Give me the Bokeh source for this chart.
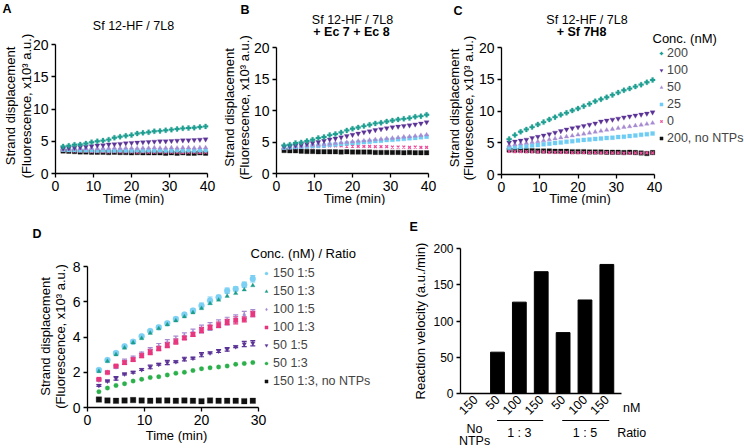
import math
from bokeh.plotting import figure
from bokeh.models import (Range1d, FixedTicker, Label, Legend, LegendItem, Whisker,
                          ColumnDataSource, TeeHead, BoxAnnotation)
from bokeh.layouts import column, row
from bokeh.embed import file_html
from bokeh.resources import INLINE

FONT = "Liberation Sans"

# ---------------- data ----------------
t_abc = [2.0, 3.5, 5.0, 6.5, 8.0, 9.5, 11.0, 12.5, 14.0, 15.5, 17.0, 18.5, 20.0,
         21.5, 23.0, 24.5, 26.0, 27.5, 29.0, 30.5, 32.0, 33.5, 35.0, 36.5, 38.0, 39.5]
conc_labels = ["200", "100", "50", "25", "0", "200, no NTPs"]

a_200 = [4.2, 4.3, 4.45, 4.5, 4.65, 4.85, 5.0, 5.1, 5.25, 5.55, 5.7, 5.85, 5.95, 6.2, 6.3, 6.4, 6.55, 6.6, 6.7, 6.8, 6.9, 7.0, 7.05, 7.1, 7.2, 7.3]
a_100 = [3.9, 3.95, 4.0, 4.1, 4.15, 4.25, 4.35, 4.4, 4.5, 4.55, 4.6, 4.7, 4.75, 4.8, 4.85, 4.9, 4.95, 5.0, 5.0, 5.05, 5.1, 5.15, 5.15, 5.2, 5.25, 5.3]
a_50 = [3.75, 3.8, 3.8, 3.85, 3.85, 3.9, 3.85, 3.9, 3.9, 3.95, 3.9, 3.95, 3.95, 3.9, 3.95, 3.95, 4.0, 3.95, 3.95, 4.0, 3.95, 4.0, 4.0, 3.95, 4.0, 4.0]
a_25 = [3.7, 3.65, 3.65, 3.6, 3.6, 3.6, 3.55, 3.6, 3.55, 3.55, 3.6, 3.55, 3.55, 3.6, 3.55, 3.6, 3.55, 3.6, 3.55, 3.55, 3.6, 3.55, 3.6, 3.55, 3.6, 3.6]
a_0 = [3.6, 3.55, 3.5, 3.45, 3.45, 3.4, 3.4, 3.4, 3.35, 3.4, 3.35, 3.35, 3.35, 3.3, 3.35, 3.3, 3.3, 3.35, 3.3, 3.3, 3.3, 3.25, 3.3, 3.3, 3.25, 3.3]
a_nontp = [3.5, 3.45, 3.4, 3.35, 3.35, 3.3, 3.3, 3.3, 3.25, 3.3, 3.25, 3.25, 3.2, 3.25, 3.2, 3.2, 3.2, 3.2, 3.15, 3.2, 3.15, 3.2, 3.15, 3.15, 3.2, 3.15]

b_200 = [4.47, 4.58, 4.84, 4.94, 5.15, 5.36, 5.63, 5.79, 6.1, 6.26, 6.52, 6.84, 7.1, 7.31, 7.52, 7.73, 7.95, 8.05, 8.26, 8.42, 8.58, 8.68, 8.79, 9.0, 9.1, 9.32]
b_100 = [4.3, 4.35, 4.45, 4.55, 4.7, 4.85, 5.0, 5.2, 5.4, 5.55, 5.75, 5.95, 6.15, 6.35, 6.55, 6.7, 6.9, 7.05, 7.2, 7.35, 7.45, 7.55, 7.65, 7.8, 7.95, 8.15]
b_50 = [4.2, 4.25, 4.3, 4.35, 4.4, 4.5, 4.55, 4.6, 4.7, 4.8, 4.9, 4.95, 5.05, 5.15, 5.2, 5.3, 5.4, 5.45, 5.55, 5.6, 5.7, 5.8, 5.85, 5.95, 6.05, 6.15]
b_25 = [4.1, 4.15, 4.2, 4.25, 4.3, 4.35, 4.4, 4.45, 4.55, 4.6, 4.7, 4.75, 4.85, 4.9, 5.0, 5.05, 5.15, 5.2, 5.3, 5.35, 5.45, 5.5, 5.6, 5.65, 5.75, 5.85]
b_0 = [4.0, 4.05, 4.1, 4.15, 4.2, 4.25, 4.3, 4.35, 4.4, 4.4, 4.4, 4.35, 4.35, 4.3, 4.3, 4.3, 4.25, 4.25, 4.25, 4.2, 4.2, 4.2, 4.15, 4.2, 4.15, 4.15]
b_nontp = [3.65, 3.6, 3.6, 3.55, 3.5, 3.5, 3.45, 3.45, 3.45, 3.45, 3.4, 3.45, 3.4, 3.4, 3.4, 3.4, 3.35, 3.35, 3.35, 3.35, 3.35, 3.3, 3.35, 3.3, 3.3, 3.3]

c_200 = [5.58, 6.21, 6.73, 7.10, 7.47, 7.88, 8.25, 8.67, 9.03, 9.40, 9.71, 10.08, 10.39, 10.76, 11.12, 11.54, 11.85, 12.17, 12.53, 12.90, 13.27, 13.53, 13.84, 14.15, 14.52, 14.89]
c_100 = [5.05, 5.2, 5.35, 5.5, 5.75, 5.95, 6.15, 6.35, 6.6, 6.85, 7.1, 7.3, 7.45, 7.65, 7.85, 8.05, 8.35, 8.5, 8.65, 8.8, 9.0, 9.15, 9.3, 9.45, 9.6, 9.8]
c_50 = [4.6, 4.75, 4.85, 4.95, 5.1, 5.2, 5.35, 5.5, 5.65, 5.8, 5.95, 6.1, 6.25, 6.4, 6.55, 6.7, 6.85, 7.0, 7.15, 7.3, 7.45, 7.55, 7.7, 7.8, 7.95, 8.1]
c_25 = [4.2, 4.3, 4.35, 4.45, 4.55, 4.65, 4.75, 4.85, 4.95, 5.05, 5.15, 5.25, 5.35, 5.45, 5.5, 5.6, 5.65, 5.75, 5.8, 5.9, 5.95, 6.05, 6.15, 6.25, 6.35, 6.45]
c_0 = [3.65, 3.6, 3.6, 3.6, 3.55, 3.55, 3.55, 3.5, 3.5, 3.5, 3.5, 3.45, 3.45, 3.45, 3.45, 3.45, 3.4, 3.45, 3.4, 3.4, 3.35, 3.35, 3.4, 3.35, 3.4, 3.4]
c_nontp = [3.85, 3.8, 3.8, 3.75, 3.75, 3.7, 3.7, 3.7, 3.65, 3.65, 3.65, 3.6, 3.6, 3.6, 3.55, 3.55, 3.55, 3.5, 3.5, 3.5, 3.45, 3.5, 3.45, 3.4, 3.3, 3.45]

t_d = [2.0, 3.5, 5.0, 6.5, 8.0, 9.5, 11.0, 12.5, 14.0, 15.5, 17.0, 18.5, 20.0, 21.5, 23.0, 24.5, 26.0, 27.5, 29.0]
d_labels = ["150 1:5", "150 1:3", "100 1:5", "100 1:3", "50 1:5", "50 1:3", "150 1:3, no NTPs"]
d_150_5 = [2.13, 2.69, 3.09, 3.47, 3.73, 4.04, 4.34, 4.55, 4.78, 5.02, 5.27, 5.50, 5.78, 6.07, 6.25, 6.63, 6.73, 6.96, 7.30]
d_150_3 = [2.05, 2.62, 3.0, 3.38, 3.68, 3.92, 4.22, 4.48, 4.7, 4.92, 5.15, 5.38, 5.62, 5.9, 6.1, 6.32, 6.48, 6.68, 6.92]
d_100_5 = [1.55, 2.0, 2.3, 2.6, 2.8, 3.05, 3.25, 3.45, 3.65, 3.85, 4.05, 4.25, 4.45, 4.6, 4.75, 4.9, 5.05, 5.25, 5.35]
d_100_3 = [1.6, 1.98, 2.35, 2.55, 2.72, 2.95, 3.15, 3.35, 3.55, 3.75, 3.95, 4.15, 4.4, 4.55, 4.7, 4.85, 4.95, 5.0, 5.3]
d_50_5 = [1.25, 1.5, 1.65, 1.9, 2.0, 2.15, 2.3, 2.45, 2.55, 2.6, 2.75, 2.8, 3.0, 3.1, 3.2, 3.3, 3.45, 3.6, 3.65]
d_50_3 = [0.9, 1.1, 1.25, 1.35, 1.5, 1.6, 1.7, 1.75, 1.85, 1.95, 2.0, 2.1, 2.2, 2.25, 2.3, 2.35, 2.45, 2.5, 2.55]
d_nontp = [0.45, 0.4, 0.38, 0.4, 0.42, 0.4, 0.38, 0.4, 0.4, 0.38, 0.4, 0.38, 0.36, 0.4, 0.38, 0.38, 0.38, 0.36, 0.38]
d_150_5_err = [0.05, 0.05, 0.08, 0.05, 0.1, 0.08, 0.05, 0.08, 0.08, 0.1, 0.08, 0.1, 0.15, 0.2, 0.12, 0.15, 0.12, 0.15, 0.18]
d_100_5_err = [0.05, 0.05, 0.08, 0.15, 0.12, 0.1, 0.15, 0.18, 0.2, 0.2, 0.18, 0.2, 0.22, 0.22, 0.22, 0.22, 0.2, 0.2, 0.2]
d_100_3_err = [0.05, 0.05, 0.05, 0.1, 0.1, 0.12, 0.15, 0.12, 0.15, 0.15, 0.1, 0.12, 0.15, 0.12, 0.15, 0.15, 0.2, 0.15, 0.15]
d_50_5_err = [0.05, 0.05, 0.1, 0.05, 0.05, 0.05, 0.1, 0.05, 0.12, 0.05, 0.1, 0.05, 0.12, 0.05, 0.08, 0.1, 0.05, 0.15, 0.15]

e_conc = ["150", "50", "100", "150", "50", "100", "150"]
e_vel = [0, 57, 126, 168, 84, 129, 178]
e_groups = ["No", "NTPs", "1 : 3", "1 : 5"]

# ---------------- styles ----------------
TEAL = "#1f9f92"
PURPLE = "#5b3296"
LPURPLE = "#a78bd2"
LBLUE = "#6fcdf4"
PINK = "#ec4f9c"
BLACK = "#111111"
D_LBLUE = "#7cd0f4"
D_TEAL = "#1e9c8a"
D_PINK = "#e8377f"
D_GREEN = "#2bb04b"

abc_styles = [("plus", TEAL, 5), ("inverted_triangle", PURPLE, 5), ("triangle", LPURPLE, 4.5),
              ("square", LBLUE, 4), ("x", PINK, 4), ("square", BLACK, 4.5)]
d_styles = [("circle", D_LBLUE, 6), ("triangle", D_TEAL, 4.5), ("diamond", LPURPLE, 5),
            ("square", D_PINK, 4.5), ("inverted_triangle", PURPLE, 4.5), ("circle", D_GREEN, 4.5),
            ("square", BLACK, 5.5)]


def panel(fig_left, fig_top, W, H, frame, xr, yr, xt, yt, tick_fs="14px"):
    """frame = (left, top, right, bottom) of the plotting box, in page pixels.
    The canvas has no borders; the axes are pinned to the box edges."""
    fl, ft, fr, fb = frame
    L = fl - fig_left
    R = fig_left + W - fr
    T = ft - fig_top
    Bm = fig_top + H - fb
    sx = (xr[1] - xr[0]) / (fr - fl)
    sy = (yr[1] - yr[0]) / (fb - ft)
    p = figure(width=W, height=H, output_backend="svg", toolbar_location=None,
               x_range=Range1d(xr[0] - L * sx, xr[1] + R * sx),
               y_range=Range1d(yr[0] - Bm * sy, yr[1] + T * sy),
               min_border=0, min_border_left=0, min_border_right=0,
               min_border_top=0, min_border_bottom=0)
    p.title.visible = False
    p.outline_line_color = None
    p.xgrid.visible = False
    p.ygrid.visible = False
    p.xaxis.ticker = FixedTicker(ticks=xt)
    p.yaxis.ticker = FixedTicker(ticks=yt)
    p.xaxis.fixed_location = yr[0]
    p.xaxis.bounds = (xr[0], xr[1])
    p.yaxis.fixed_location = xr[0]
    p.yaxis.bounds = (yr[0], yr[1])
    p.axis.axis_line_width = 1.3
    p.axis.axis_line_color = "black"
    p.axis.major_tick_line_width = 1.3
    p.axis.major_tick_line_color = "black"
    p.axis.major_tick_out = 4
    p.axis.major_tick_in = 0
    p.axis.minor_tick_out = 0
    p.axis.minor_tick_in = 0
    p.axis.major_label_text_font = FONT
    p.axis.major_label_text_font_size = tick_fs
    p.axis.major_label_text_color = "black"
    p.axis.major_label_standoff = 3
    return p, (fig_left, fig_top + H)


def txt(p, geo, x, y, text, size="13px", bold=False, align="center", baseline="middle",
        angle=0.0, xdata=False):
    """x, y in page pixels (x may be a data value when xdata=True)."""
    p.add_layout(Label(x=x if xdata else x - geo[0], y=geo[1] - y,
                       x_units="data" if xdata else "screen", y_units="screen",
                       text=text, text_font=FONT, text_font_size=size,
                       text_font_style="bold" if bold else "normal",
                       text_align=align, text_baseline=baseline, angle=angle,
                       text_color="black"))


def ylab2(p, geo, x1, x2, y):
    txt(p, geo, x1, y, "Strand displacement", angle=math.pi / 2)
    txt(p, geo, x2, y, "(Fluorescence, x10\u00b3 a.u.)", angle=math.pi / 2)


def style_legend(leg, fs, gh, sp, standoff):
    leg.label_text_font = FONT
    leg.label_text_font_size = fs
    leg.glyph_width = 8
    leg.glyph_height = gh
    leg.label_height = gh
    leg.label_standoff = standoff
    leg.spacing = sp
    leg.padding = 0
    leg.margin = 0
    leg.border_line_color = None
    leg.background_fill_alpha = 0


def conc_panel(fig_left, W, frame, series, letter, letter_xy, titles, ylx):
    p, geo = panel(fig_left, 0, W, 205, frame, (0, 40), (0, 20),
                   [0, 10, 20, 30, 40], [0, 5, 10, 15, 20])
    rs = []
    for ys, (mk, col, sz) in zip(series, abc_styles):
        if mk == "x":
            r = p.scatter(t_abc, ys, marker=mk, size=sz, line_color=col, line_width=1.3, fill_color=None)
        else:
            r = p.scatter(t_abc, ys, marker=mk, size=sz, fill_color=col, line_color=col, line_width=0.3)
        rs.append(r)
    p.renderers = rs[::-1]
    txt(p, geo, letter_xy[0], letter_xy[1], letter, size="12.5px", bold=True, align="left", baseline="top")
    for (tx, ty, t, b) in titles:
        txt(p, geo, tx, ty, t, size="12.5px", bold=b)
    cx = (frame[0] + frame[2]) / 2
    cy = (frame[1] + frame[3]) / 2
    ylab2(p, geo, ylx[0], ylx[1], cy - 3)
    txt(p, geo, cx + 2, 197.5, "Time (min)")
    return p, geo, rs


# ---------------- panel A ----------------
pA, gA, _ = conc_panel(0, 221, (55, 44, 207, 173), [a_200, a_100, a_50, a_25, a_0, a_nontp],
                       "A", (2, 1), [(133, 25.5, "Sf 12-HF / 7L8", False)], (10, 25.5))
# ---------------- panel B ----------------
pB, gB, _ = conc_panel(221, 225, (276, 47, 428, 173), [b_200, b_100, b_50, b_25, b_0, b_nontp],
                       "B", (240, 2), [(352, 19.5, "Sf 12-HF / 7L8", False), (351, 31, "+ Ec 7 + Ec 8", True)],
                       (229, 244))
# ---------------- panel C ----------------
pC, gC, rC = conc_panel(446, 298, (501, 47, 654, 174), [c_200, c_100, c_50, c_25, c_0, c_nontp],
                        "C", (453, 3), [(586.5, 19.5, "Sf 12-HF / 7L8", False), (581, 31, "+ Sf 7H8", True)],
                        (454, 467.5))
txt(pC, gC, 652, 38, "Conc. (nM)", align="left")
legC = Legend(items=[LegendItem(label=lab, renderers=[r]) for lab, r in zip(conc_labels, rC)],
              location=(657 - gC[0], gC[1] - 145.3), orientation="vertical")
style_legend(legC, "12.5px", 14, 3, 2)
pC.add_layout(legC)

# ---------------- panel D ----------------
pD, gD = panel(0, 205, 405, 243, (87, 266, 258, 407), (0, 30), (0, 8), [0, 10, 20, 30], [0, 2, 4, 6, 8])
d_series = [d_150_5, d_150_3, d_100_5, d_100_3, d_50_5, d_50_3, d_nontp]
d_errs = {0: d_150_5_err, 2: d_100_5_err, 3: d_100_3_err, 4: d_50_5_err}
rD = []
for i, (ys, (mk, col, sz)) in enumerate(zip(d_series, d_styles)):
    if i in d_errs:
        errs = d_errs[i]
        src = ColumnDataSource(dict(x=t_d, upper=[v + e for v, e in zip(ys, errs)],
                                    lower=[v - e for v, e in zip(ys, errs)]))
        pD.add_layout(Whisker(source=src, base="x", upper="upper", lower="lower",
                              line_color=col, line_width=1.2,
                              upper_head=TeeHead(size=5, line_color=col, line_width=1.2),
                              lower_head=TeeHead(size=5, line_color=col, line_width=1.2)))
    rD.append(pD.scatter(t_d, ys, marker=mk, size=sz, fill_color=col, line_color=col, line_width=0.3))
txt(pD, gD, 250, 252.5, "Conc. (nM) / Ratio", align="left")
legD = Legend(items=[LegendItem(label=lab, renderers=[r]) for lab, r in zip(d_labels, rD)],
              location=(262 - gD[0], gD[1] - 387.7), orientation="vertical")
style_legend(legD, "12.5px", 14, 4, 3)
pD.add_layout(legD)
txt(pD, gD, 32, 226, "D", size="12.5px", bold=True, align="left", baseline="top")
ylab2(pD, gD, 45, 59.5, 336)
txt(pD, gD, 176, 435, "Time (min)")

# ---------------- panel E ----------------
e_pos = list(range(len(e_conc)))
pE, gE = panel(405, 205, 339, 243, (460, 248, 621, 393), (-0.69, 6.67), (0, 200), e_pos,
               [0, 50, 100, 150, 200], tick_fs="12px")
pE.vbar(x=e_pos, top=e_vel, width=0.63, fill_color="black", line_color="black")
pE.xaxis.major_label_overrides = {i: s for i, s in enumerate(e_conc)}
pE.xaxis.major_label_orientation = math.pi / 4
pE.xaxis.major_tick_out = 0
pE.xaxis.major_label_text_font_size = "12.5px"
pE.xaxis.major_label_standoff = 4
txt(pE, gE, 409, 219, "E", size="12.5px", bold=True, align="left", baseline="top")
txt(pE, gE, 420, 320.5, "Reaction velocity (a.u./min)", angle=math.pi / 2)
txt(pE, gE, 6.74, 407.5, "nM", size="12.5px", align="left", xdata=True)
txt(pE, gE, -0.05, 428.5, e_groups[0], size="12.5px", xdata=True)
txt(pE, gE, -0.05, 440, e_groups[1], size="12.5px", xdata=True)
txt(pE, gE, 2, 432, e_groups[2], size="12.5px", xdata=True)
txt(pE, gE, 5, 432, e_groups[3], size="12.5px", xdata=True)
txt(pE, gE, 6.47, 432, "Ratio", size="12.5px", align="left", xdata=True)
for lo, hi in [(0.98, 3.09), (3.96, 6.11)]:
    pE.add_layout(BoxAnnotation(left=lo, right=hi, left_units="data", right_units="data",
                                top=gE[1] - 419.4, bottom=gE[1] - 420.6,
                                top_units="screen", bottom_units="screen",
                                fill_color="black", fill_alpha=1.0, line_alpha=0))

layout = column(row(pA, pB, pC), row(pD, pE))
open("out.html", "w").write(file_html(layout, INLINE))
